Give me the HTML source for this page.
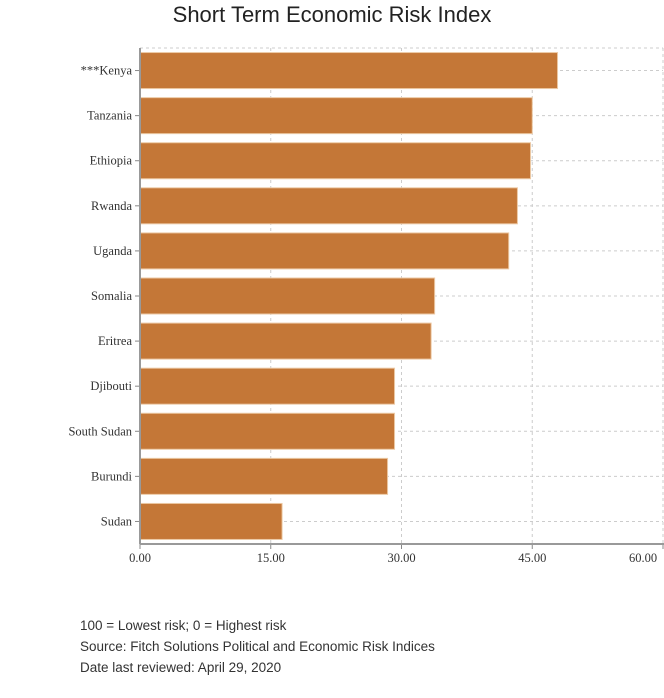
<!DOCTYPE html>
<html><head><meta charset="utf-8"><style>
body{margin:0;background:#fff;width:664px;height:698px;overflow:hidden}
svg{display:block}
</style></head><body>
<svg width="664" height="698" xmlns="http://www.w3.org/2000/svg">
<text x="332" y="22" text-anchor="middle" font-family="Liberation Sans, sans-serif" font-size="22" fill="#222">Short Term Economic Risk Index</text>
<g id="grid"></g><g id="bars"></g><g id="axes"></g>
<g font-family="Liberation Sans, sans-serif" font-size="13.5" fill="#333">
<text x="80" y="630">100 = Lowest risk; 0 = Highest risk</text>
<text x="80" y="651">Source: Fitch Solutions Political and Economic Risk Indices</text>
<text x="80" y="672">Date last reviewed: April 29, 2020</text>
</g>
</svg>
<script>
const categories=["***Kenya","Tanzania","Ethiopia","Rwanda","Uganda","Somalia","Eritrea","Djibouti","South Sudan","Burundi","Sudan"];
const values=[47.9,45.0,44.8,43.3,42.3,33.8,33.4,29.2,29.2,28.4,16.3];
const ticks=[0,15,30,45,60];
const tickLabels=["0.00","15.00","30.00","45.00","60.00"];
const NS="http://www.w3.org/2000/svg";
const X0=140,X1=663,Y0=48,Y1=544,xmax=60;
const x=v=>X0+(v/xmax)*(X1-X0);
const step=(Y1-Y0)/categories.length;
const y=i=>Y0+i*step;
function mk(t,a,p){const e=document.createElementNS(NS,t);for(const k in a)e.setAttribute(k,a[k]);p.appendChild(e);return e;}
const G=document.getElementById('grid'),B=document.getElementById('bars'),A=document.getElementById('axes');
mk('line',{x1:X0,x2:X1,y1:Y0,y2:Y0,stroke:'#ccc','stroke-dasharray':'3,3'},G);
ticks.forEach((t,i)=>{
 const l=mk('line',{x1:x(t),x2:x(t),y1:Y0,y2:Y1,stroke:'#ccc','stroke-dasharray':'3,3'},G);
 
 
 const tk=mk('line',{x1:x(t),x2:x(t),y1:Y1,y2:Y1+5,stroke:'#888'},A);
 const tx=mk('text',{x:i==ticks.length-1?x(t)-20:x(t),y:Y1+18,'text-anchor':'middle','font-family':'Liberation Serif, serif','font-size':'12.5',fill:'#333'},A);
 tx.textContent=tickLabels[i];
 
 
});
categories.forEach((c,i)=>{
 const cy=y(i)+step/2;
 mk('line',{x1:x(0),x2:X1,y1:cy,y2:cy,stroke:'#ccc','stroke-dasharray':'3,3'},G);
 const r=mk('rect',{x:x(0),y:cy-18,width:x(values[i])-x(0),height:36,fill:'#c47737',stroke:'#ecc9a4','stroke-width':1},B);
 
 
 mk('line',{x1:X0-5,x2:X0,y1:cy,y2:cy,stroke:'#888'},A);
 const t=mk('text',{x:X0-8,y:cy+4,'text-anchor':'end','font-family':'Liberation Serif, serif','font-size':'12.5',fill:'#333'},A);
 t.textContent=c;
 
 
});
const ya=mk('line',{x1:X0,x2:X0,y1:Y0,y2:Y1,stroke:'#999','stroke-width':2},A);


const xa=mk('line',{x1:X0,x2:X1+1,y1:Y1,y2:Y1,stroke:'#999','stroke-width':2},A);


</script>
</body></html>
